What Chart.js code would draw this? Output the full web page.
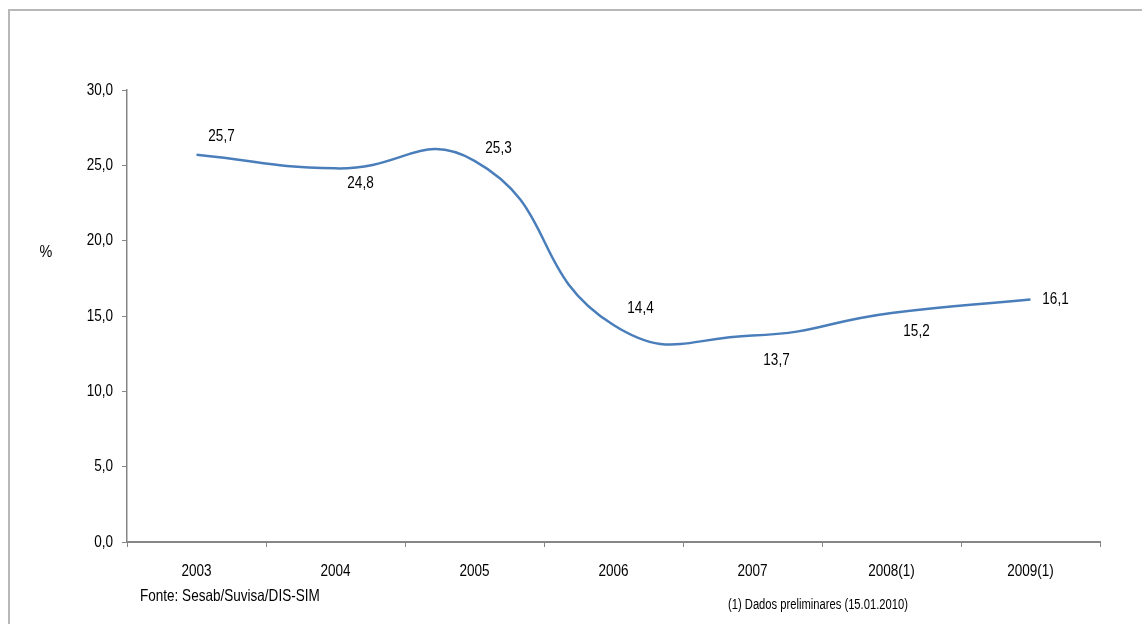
<!DOCTYPE html>
<html>
<head>
<meta charset="utf-8">
<script src="https://cdn.jsdelivr.net/npm/chart.js@4/dist/chart.umd.min.js"></script>
<style>
  html, body { margin: 0; padding: 0; background: #fff; overflow: hidden; }
  #wrap { position: relative; width: 1142px; height: 624px; }
  #frame { position: absolute; left: 8px; top: 9px; width: 1300px; height: 800px;
           border-top: 2px solid #b8b8b8; border-left: 2px solid #b8b8b8; }
  canvas { position: absolute; left: 0; top: 0; }
</style>
</head>
<body>
<div id="wrap">
  <div id="frame"></div>
  <canvas id="chart" width="1142" height="624"></canvas>
</div>
<script>
const years = ['2003', '2004', '2005', '2006', '2007', '2008(1)', '2009(1)'];
const percent = [25.7, 24.8, 25.3, 14.4, 13.7, 15.2, 16.1];
const yTicks = [0, 5, 10, 15, 20, 25, 30];

const FONT = "'Liberation Sans', Arial, sans-serif";
const SQUEEZE = 0.82;   // horizontal squeeze to get a narrow face

// where each value label sits relative to its point
const labelSpots = [
    { dx: 25, dy: -18 },
    { dx: 25, dy: 15 },
    { dx: 24, dy: -12 },
    { dx: 27, dy: -17 },
    { dx: 24, dy: 25 },
    { dx: 25, dy: 18 },
    { dx: 25, dy: 0 }
];

const fmt = v => v.toFixed(1).replace('.', ',');

function narrowText(ctx, text, x, y, size, align, squeeze) {
    ctx.save();
    ctx.translate(x, y);
    ctx.scale(squeeze || SQUEEZE, 1);
    ctx.font = size + 'px ' + FONT;
    ctx.textAlign = align;
    ctx.textBaseline = 'middle';
    ctx.fillStyle = '#000';
    ctx.fillText(text, 0, 0);
    ctx.restore();
}

const extras = {
    id: 'extras',
    afterDraw(chart) {
        const ctx = chart.ctx;
        const xs = chart.scales.x;
        const ys = chart.scales.y;

        // axis labels
        yTicks.forEach(v => {
            narrowText(ctx, fmt(v), xs.left - 14, ys.getPixelForValue(v), 16.5, 'right');
        });
        years.forEach((y, i) => {
            narrowText(ctx, y, xs.getPixelForValue(i), ys.bottom + 29, 16.5, 'center');
        });

        // value labels
        const meta = chart.getDatasetMeta(0);
        meta.data.forEach((pt, i) => {
            const s = labelSpots[i];
            narrowText(ctx, fmt(percent[i]), pt.x + s.dx, pt.y + s.dy, 16.5, 'center');
        });

        narrowText(ctx, '%', 46, 253, 16, 'center', 0.9);
        narrowText(ctx, 'Fonte: Sesab/Suvisa/DIS-SIM', 140, 596, 16.5, 'left');
        narrowText(ctx, '(1) Dados preliminares (15.01.2010)', 728, 605, 14, 'left', 0.8);
    }
};

new Chart(document.getElementById('chart'), {
    type: 'line',
    data: {
        labels: years,
        datasets: [{
            data: percent,
            borderColor: '#4a7ebb',
            borderWidth: 2.5,
            tension: 0.5,
            pointRadius: 0,
            fill: false
        }]
    },
    options: {
        responsive: false,
        animation: false,
        layout: { padding: { left: 0, right: 42, top: 90, bottom: 0 } },
        plugins: {
            legend: { display: false },
            tooltip: { enabled: false }
        },
        scales: {
            x: {
                offset: true,
                grid: {
                    offset: true,
                    drawOnChartArea: false,
                    drawTicks: true,
                    tickLength: 5,
                    color: '#868686'
                },
                border: { color: '#868686', width: 2 },
                ticks: { display: false },
                afterFit(scale) { scale.height = 82; }
            },
            y: {
                min: 0,
                max: 30,
                afterBuildTicks(scale) { scale.ticks = yTicks.map(v => ({ value: v })); },
                grid: {
                    drawOnChartArea: false,
                    drawTicks: true,
                    tickLength: 5,
                    color: '#868686'
                },
                border: { color: '#868686', width: 1.5 },
                ticks: { display: false },
                afterFit(scale) { scale.width = 127; }
            }
        }
    },
    plugins: [extras]
});
</script>
</body>
</html>
